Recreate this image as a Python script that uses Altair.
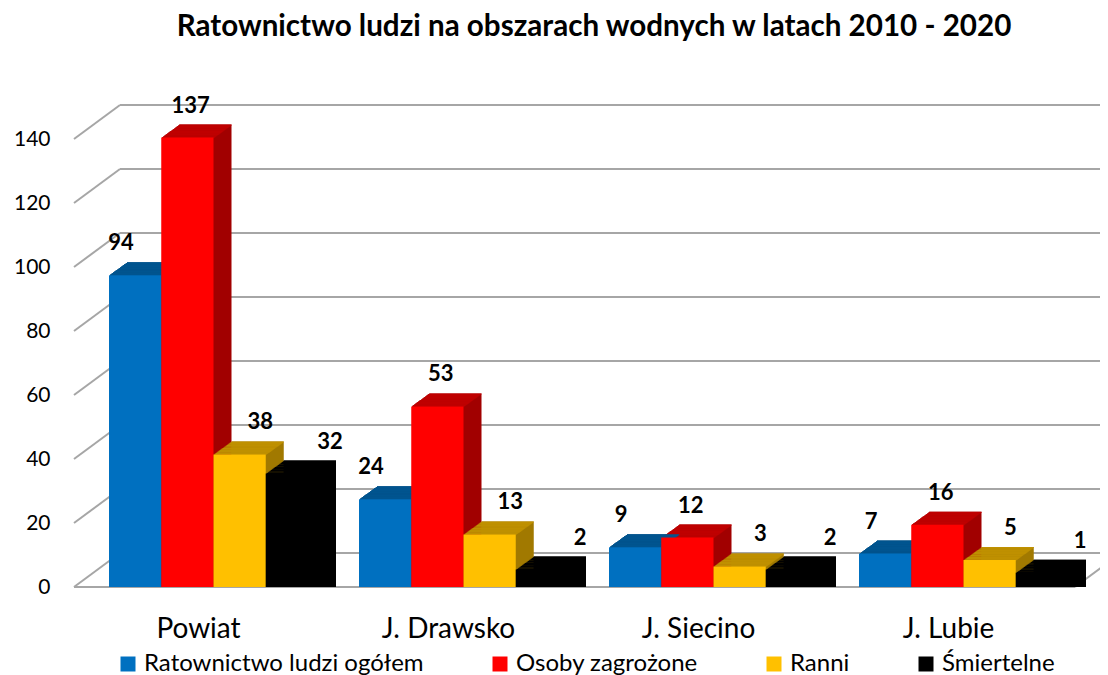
import altair as alt
import pandas as pd

# ---- data ----
categories = ["Powiat", "J. Drawsko", "J. Siecino", "J. Lubie"]
series = ["Ratownictwo ludzi ogółem", "Osoby zagrożone", "Ranni", "Śmiertelne"]
ratownictwo = [94, 24, 9, 7]
osoby = [137, 53, 12, 16]
ranni = [38, 13, 3, 5]
smiertelne = [32, 2, 2, 1]
y_ticks = [0, 20, 40, 60, 80, 100, 120, 140]

front_colors = ["#0070C0", "#FF0000", "#FFC000", "#000000"]
top_colors = ["#00548F", "#BF0000", "#BF9000", "#000000"]
side_colors = ["#004779", "#A10000", "#A17900", "#000000"]

title_text = "Ratownictwo ludzi na obszarach wodnych w latach 2010 - 2020"
FONT = "Lato"

rows = []
for s_i, (s, vals) in enumerate(zip(series, [ratownictwo, osoby, ranni, smiertelne])):
    for c, v in zip(categories, vals):
        rows.append({"cat": c, "series": s, "value": v,
                     "top": top_colors[s_i], "side": side_colors[s_i]})
df = pd.DataFrame(rows)
grid_df = pd.DataFrame({"v": y_ticks})
zero_df = pd.DataFrame({"v": [0]})
title_df = pd.DataFrame({"t": [title_text]})

# ---- layout constants (pixels) ----
W, H = 1026, 512
BAR_DY = -11                 # bars stand a little behind the floor's front edge
WALL_DX, WALL_DY = 46, -34   # depth of the back wall
DEPTH_X, DEPTH_Y = 18, 13    # depth of each bar
N = 18
sx, sy = DEPTH_X / N, DEPTH_Y / N
GRID = "#A6A6A6"
X0, X1, PAD_IN = 35, 994, 0.164
STEP = (X1 - X0) / (len(categories) - PAD_IN)
BW = STEP * (1 - PAD_IN)

yscale = alt.Scale(domain=[0, 160], nice=False, zero=True)
yaxis = alt.Axis(values=y_ticks, grid=False, domain=False, ticks=False, tickSize=0,
                 labelPadding=24, labelFontSize=21, labelFont=FONT, labelColor="#000000",
                 title=None)
xscale = alt.Scale(domain=categories, range=[X0, X1], paddingInner=PAD_IN, paddingOuter=0)
xaxis = alt.Axis(title=None, domain=False, ticks=False, tickSize=0, labelAngle=0,
                 labelFontSize=28, labelFont=FONT, labelColor="#000000",
                 labelBaseline="alphabetic", labelPadding=50, labelOffset=-15)

X = alt.X("cat:N", sort=categories, scale=xscale, axis=xaxis)
Y = alt.Y("value:Q", scale=yscale, axis=yaxis, stack=None)


def xo(shift):
    return alt.XOffset("series:N", sort=series,
                       scale=alt.Scale(domain=series, range=[shift, BW + shift],
                                       paddingInner=0, paddingOuter=0))


layers = []

# back wall horizontal gridlines
layers.append(alt.Chart(grid_df).mark_rule(color=GRID, strokeWidth=2, yOffset=WALL_DY).encode(
    y=alt.Y("v:Q", scale=yscale, axis=yaxis),
    x=alt.value(WALL_DX), x2=alt.value(W)))
# slanted side wall gridlines
layers.append(alt.Chart(grid_df).mark_rule(color=GRID, strokeWidth=2, y2Offset=WALL_DY).encode(
    y=alt.Y("v:Q", scale=yscale, axis=yaxis), y2="v:Q",
    x=alt.value(0), x2=alt.value(WALL_DX)))
# floor front edge and right edge
layers.append(alt.Chart(zero_df).mark_rule(color=GRID, strokeWidth=2).encode(
    y=alt.Y("v:Q", scale=yscale, axis=yaxis),
    x=alt.value(0), x2=alt.value(1001)))
layers.append(alt.Chart(zero_df).mark_rule(color=GRID, strokeWidth=2, y2Offset=WALL_DY).encode(
    y=alt.Y("v:Q", scale=yscale, axis=yaxis), y2="v:Q",
    x=alt.value(1001), x2=alt.value(1001 + WALL_DX)))

# side faces (extruded stack)
for k in range(1, N + 1):
    layers.append(alt.Chart(df).mark_bar(
        yOffset=BAR_DY - k * sy, y2Offset=BAR_DY - k * sy).encode(
        x=X, xOffset=xo(k * sx), y=Y, color=alt.Color("side:N", scale=None)))
# top faces (thin strips)
for k in range(1, N + 1):
    layers.append(alt.Chart(df).mark_bar(
        yOffset=BAR_DY - k * sy, y2Offset=BAR_DY - (k - 1) * sy + 0.4).encode(
        x=X, xOffset=xo(k * sx), y=Y, y2="value:Q", color=alt.Color("top:N", scale=None)))

# front faces with legend
layers.append(alt.Chart(df).mark_bar(yOffset=BAR_DY, y2Offset=BAR_DY).encode(
    x=X, xOffset=xo(0), y=Y,
    color=alt.Color("series:N", sort=series,
                    scale=alt.Scale(domain=series, range=front_colors),
                    legend=alt.Legend(orient="none", legendX=42, legendY=577, padding=0,
                                      direction="horizontal", title=None,
                                      symbolType="square", symbolSize=225,
                                      symbolStrokeWidth=0, symbolOpacity=1,
                                      labelFontSize=24, labelFont=FONT, labelLimit=500,
                                      labelColor="#000000", labelOffset=4,
                                      columnPadding=64))))

# value labels
layers.append(alt.Chart(df).mark_text(dx=12, dy=BAR_DY - 32, baseline="middle",
                                      fontSize=22, fontWeight="bold", font=FONT,
                                      color="#000000").encode(
    x=X, xOffset=xo(0), y=Y, text="value:Q"))

# chart title (as a text mark so that its place is exact)
layers.append(alt.Chart(title_df).mark_text(baseline="alphabetic", align="center",
                                            fontSize=29.6, fontWeight="bold", font=FONT,
                                            color="#000000").encode(
    text="t:N", x=alt.value(520), y=alt.value(-39)))

chart = alt.layer(*layers).resolve_scale(xOffset="independent").properties(
    width=W, height=H,
    padding={"left": 66, "top": 67, "right": 0, "bottom": 88},
    autosize=alt.AutoSizeParams(type="none"),
    background="#FFFFFF",
).configure_view(strokeWidth=0)

chart.save("out.html", embed_options={"renderer": "svg", "actions": False})
